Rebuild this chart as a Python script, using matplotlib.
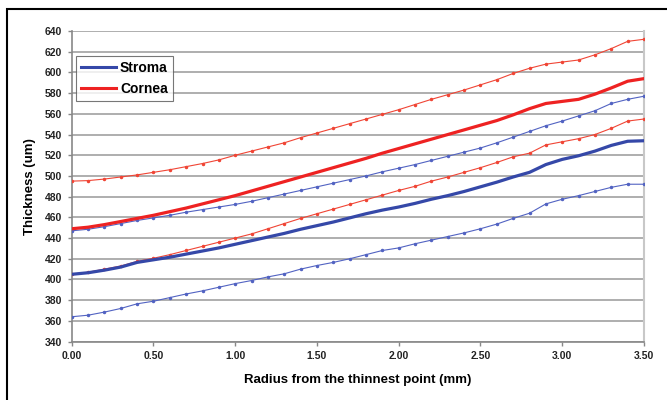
import numpy as np
import matplotlib.pyplot as plt
from matplotlib.patches import Rectangle

plt.rcParams['font.family'] = ['Liberation Sans', 'DejaVu Sans']

# radius from the thinnest point (mm), sampled every 0.1 mm
radius = np.round(np.arange(0, 3.51, 0.1), 1)

# Cornea thickness (um): mean and +/- 1 SD
cornea_upper = [495, 495.5, 497, 499, 501, 503.5, 506, 509, 512, 515.5, 520, 524, 528, 532,
                537, 541.5, 546, 550.5, 555, 559.5, 564, 569, 574, 578.5, 583, 588, 593, 599,
                604, 608, 610, 612, 617, 623, 630, 632]
cornea_mean = [449, 450.5, 453, 456, 459, 462, 465.5, 469, 473, 477, 481, 485.5, 490, 494.5,
               499, 503.5, 508, 512.5, 517, 522, 526.5, 531, 535.5, 540, 544.5, 549, 553.5,
               559, 565, 570, 572, 574, 579, 585, 591.5, 594]
cornea_lower = [405, 407, 410, 413, 417.5, 420.5, 424, 428, 432, 436, 440, 444, 449, 454, 459,
                463.5, 468, 472.5, 477, 481.5, 486, 490, 495, 499, 503.5, 508, 513, 518.5, 522,
                530, 533, 536, 540, 546, 553, 555]

# Stroma thickness (um): mean and +/- 1 SD
stroma_upper = [447, 448.5, 451, 454, 457, 459.5, 462, 465, 467.5, 470, 472.5, 475.5, 479,
                482.5, 486, 489.5, 493, 496.5, 500, 504, 507.5, 511, 515, 519, 523, 527, 532,
                537.5, 543, 548.5, 553, 558, 563, 570, 574, 577]
stroma_mean = [405, 406.5, 409, 412, 416.5, 419, 421.5, 424.5, 427.5, 430.5, 434, 437.5, 441,
               444.5, 448.5, 452, 455.5, 459.5, 463.5, 467, 470, 473.5, 477.5, 481, 485, 489.5,
               494, 499, 503.5, 511, 516, 519.5, 524, 529.5, 533.5, 534]
stroma_lower = [364, 365.5, 368.5, 372, 376.5, 379, 382.5, 386, 389, 392.5, 396, 399, 402.5,
                405.5, 410, 413.5, 416.5, 420, 424, 428, 430.5, 434.5, 438, 441.5, 445, 449,
                453.5, 459, 464, 473, 477.5, 481, 485, 489, 492, 492]

RED = '#ee2222'
BLUE = '#3548a8'

fig = plt.figure(figsize=(6.67, 4.0), dpi=100)
ax = fig.add_axes([0.1075, 0.146, 0.858, 0.7765])

# thin SD lines with small markers
for ys in [cornea_upper, cornea_lower]:
    ax.plot(radius, ys, color='#f04535', lw=0.8, marker='o', ms=1.5, zorder=3)
for ys in [stroma_upper, stroma_lower]:
    ax.plot(radius, ys, color='#5263c2', lw=0.8, marker='o', ms=1.5, zorder=3)

ax.plot(radius, stroma_mean, color=BLUE, lw=2.3, label='Stroma', zorder=4)
ax.plot(radius, cornea_mean, color=RED, lw=2.3, label='Cornea', zorder=4)

ax.set_xlim(0, 3.5)
ax.set_ylim(340, 640)
ax.set_xticks(np.arange(0, 3.51, 0.5))
ax.set_xticklabels([f'{v:.2f}' for v in np.arange(0, 3.51, 0.5)])
ax.set_yticks(np.arange(340, 641, 20))
ax.yaxis.grid(True, color='#a8a8a8', lw=1.3)
ax.set_axisbelow(True)

for sp in ['left', 'bottom']:
    ax.spines[sp].set_color('#888888')
    ax.spines[sp].set_linewidth(1.2)
ax.spines['right'].set_color('#c8c8c8')
ax.spines['right'].set_linewidth(1.5)
ax.spines['top'].set_visible(False)

ax.tick_params(direction='out', length=3, width=1, color='#888888', labelsize=7.5,
               pad=4)
for lab in ax.get_xticklabels() + ax.get_yticklabels():
    lab.set_fontweight('bold')
    lab.set_color('#222222')

ax.set_xlabel('Radius from the thinnest point (mm)', fontsize=9.5, fontweight='bold',
              labelpad=9)
ax.set_ylabel('Thickness (um)', fontsize=9.5, fontweight='bold', labelpad=6)

leg = ax.legend(loc='upper left', bbox_to_anchor=(0.008, 0.92),
                prop={'weight': 'bold', 'size': 10}, frameon=True, fancybox=False,
                handlelength=2.5, borderpad=0.35, labelspacing=0.5, handletextpad=0.3,
                borderaxespad=0)
leg.get_frame().set_edgecolor('#555555')
leg.get_frame().set_linewidth(0.8)
for line in leg.get_lines():
    line.set_linewidth(2.2)

# black frame around the figure (top and left edges visible)
fig.patches.append(Rectangle((7 / 667, -0.1), 1.2, 1 - 9 / 400 + 0.1,
                             transform=fig.transFigure, fill=False, edgecolor='black',
                             lw=1.5))

fig.savefig('out.png', dpi=100)
